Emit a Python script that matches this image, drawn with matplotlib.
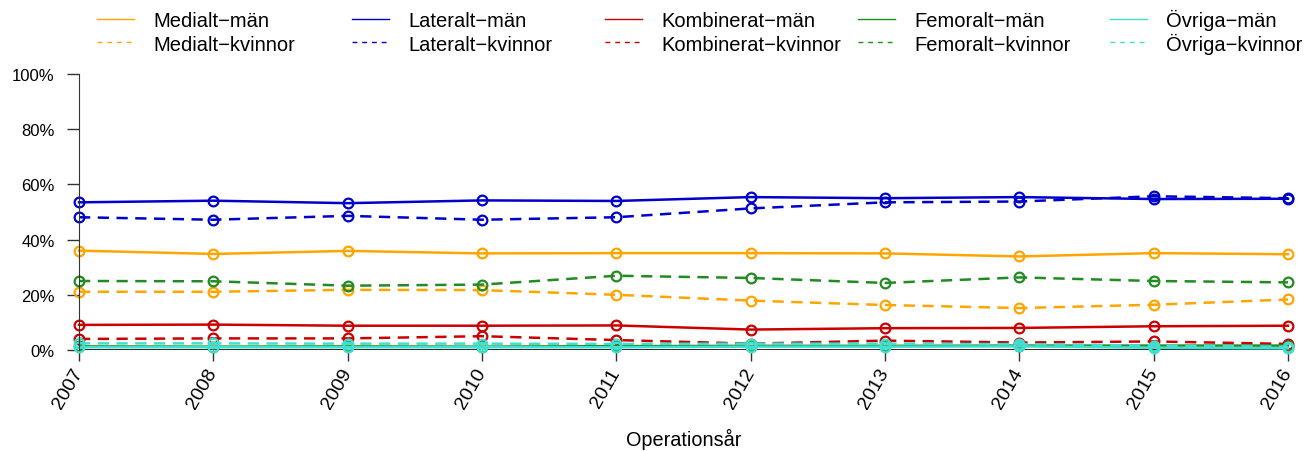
import numpy as np
import matplotlib
matplotlib.use("Agg")
from matplotlib import pyplot as plt
from matplotlib.lines import Line2D

plt.rcParams['font.family'] = ['Liberation Sans', 'DejaVu Sans']

years = [2007, 2008, 2009, 2010, 2011, 2012, 2013, 2014, 2015, 2016]

medialt_man = [36.0, 34.8, 35.9, 35.0, 35.1, 35.1, 35.0, 33.9, 35.1, 34.7]
medialt_kvinnor = [21.1, 21.1, 21.8, 21.7, 20.0, 17.9, 16.3, 15.2, 16.4, 18.3]
lateralt_man = [53.5, 54.1, 53.2, 54.2, 54.0, 55.4, 55.0, 55.4, 54.7, 54.8]
lateralt_kvinnor = [48.1, 47.2, 48.6, 47.2, 48.1, 51.3, 53.5, 53.8, 55.7, 55.0]
kombinerat_man = [9.1, 9.2, 8.8, 8.8, 8.9, 7.4, 7.9, 8.0, 8.6, 8.8]
kombinerat_kvinnor = [4.0, 4.2, 4.2, 5.0, 3.6, 2.3, 3.4, 2.7, 3.1, 2.2]
femoralt_man = [1.3, 1.2, 1.3, 1.2, 1.4, 1.5, 1.5, 1.6, 1.6, 1.6]
femoralt_kvinnor = [25.0, 24.9, 23.3, 23.7, 26.9, 26.1, 24.3, 26.3, 25.0, 24.5]
ovriga_man = [1.0, 1.0, 1.0, 1.0, 1.0, 1.2, 1.2, 1.3, 0.8, 0.6]
ovriga_kvinnor = [2.4, 2.4, 2.3, 2.3, 2.2, 2.3, 2.3, 2.1, 1.6, 1.2]

groups = ["Medialt", "Lateralt", "Kombinerat", "Femoralt", "Övriga"]
colors = ["#FFA500", "#0000CD", "#CD0000", "#228B22", "#40E0D0"]
series = [(medialt_man, medialt_kvinnor), (lateralt_man, lateralt_kvinnor),
          (kombinerat_man, kombinerat_kvinnor), (femoralt_man, femoralt_kvinnor),
          (ovriga_man, ovriga_kvinnor)]

W, H = 1314, 452
fig = plt.figure(figsize=(W / 100, H / 100), dpi=100)
ax = fig.add_axes([79 / W, 1 - 351 / H, (1288 - 79) / W, (351 - 75) / H])

for (man, kv), c in zip(series, colors):
    ax.plot(years, man, color=c, lw=1.8, marker='o', mfc='none', mec=c,
            ms=7, mew=1.6, clip_on=False)
    ax.plot(years, kv, color=c, lw=1.8, dashes=(4.5, 3), marker='o', mfc='none',
            mec=c, ms=7, mew=1.6, clip_on=False)

ax.axhline(0, color='black', lw=1.2, zorder=0)
ax.set_xlim(2007, 2016)
ax.set_ylim(0, 100)
ax.set_yticks([0, 20, 40, 60, 80, 100])
ax.set_yticklabels(["0%", "20%", "40%", "60%", "80%", "100%"], fontsize=12)
ax.set_xticks(years)
ax.set_xticklabels([str(y) for y in years], fontsize=14, rotation=60,
                   ha='right', va='center', rotation_mode='anchor')
ax.tick_params(axis='y', length=8.5, width=1, color='#333333', pad=9)
ax.tick_params(axis='x', length=8, width=1, color='#333333', pad=6)
for s in ['top', 'right', 'bottom']:
    ax.spines[s].set_visible(False)
ax.spines['left'].set_color('#333333')
ax.set_xlabel("Operationsår", fontsize=14.3, labelpad=12)

# legend drawn by hand so every column lines up like the original
col_x = [97, 352, 605, 858, 1110]
row_line_y = [20, 43]
row_text_y = [27, 51]
for g, c, x in zip(groups, colors, col_x):
    for r, (suffix, dash) in enumerate([("\u2212män", None), ("\u2212kvinnor", (3.5, 3.5))]):
        ln = Line2D([x / W, (x + 37) / W], [1 - row_line_y[r] / H] * 2,
                    transform=fig.transFigure, color=c, lw=1)
        if dash:
            ln.set_dashes(dash)
        fig.add_artist(ln)
        fig.text((x + 56) / W, 1 - row_text_y[r] / H, g + suffix,
                 fontsize=14.5, va='baseline', ha='left')

fig.savefig("out.png", dpi=100)
